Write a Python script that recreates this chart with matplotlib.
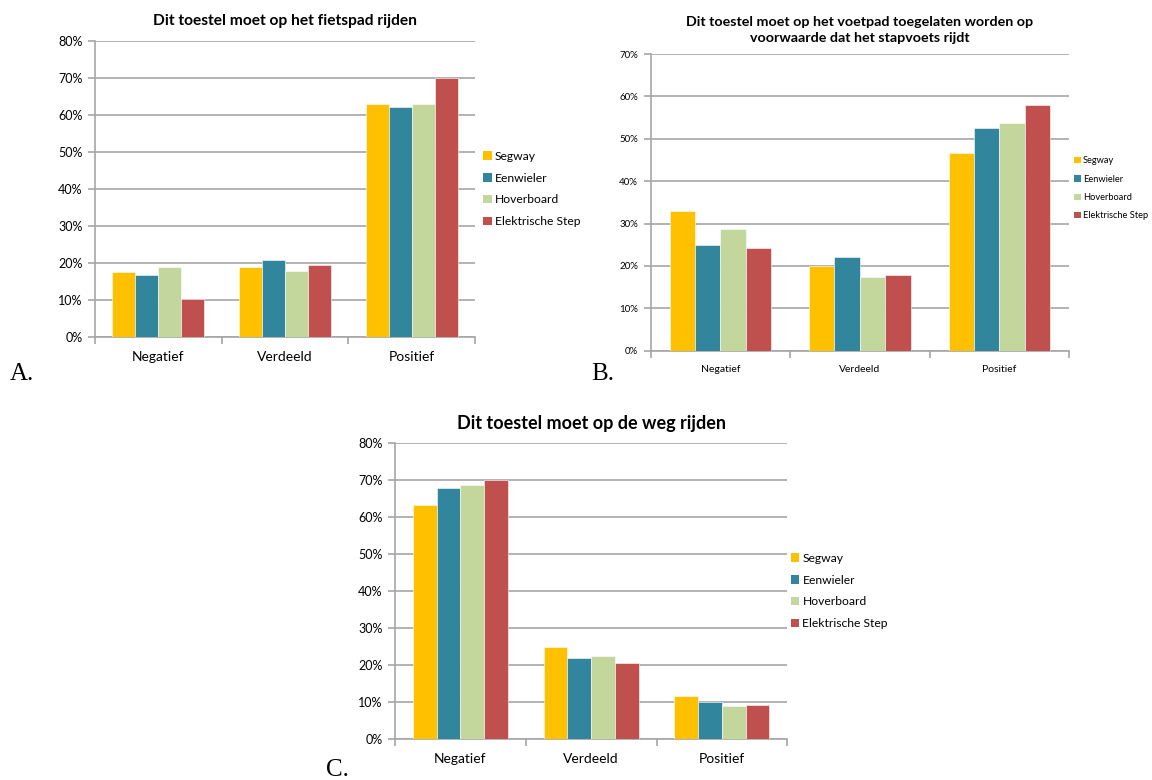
import numpy as np
import matplotlib
matplotlib.use('Agg')
import matplotlib.pyplot as plt
from matplotlib.ticker import MultipleLocator, FixedLocator, FuncFormatter
from matplotlib.patches import Patch

plt.rcParams['font.family'] = ['Lato', 'DejaVu Sans']

categories = ['Negatief', 'Verdeeld', 'Positief']
devices = ['Segway', 'Eenwieler', 'Hoverboard', 'Elektrische Step']
colors = ['#FFC000', '#31859C', '#C3D69B', '#C0504D']

# percentages per device, in category order
fietspad = [
    [17.6, 18.9, 63.0],
    [16.9, 20.8, 62.1],
    [18.9, 17.9, 62.9],
    [10.4, 19.4, 70.0],
]
voetpad = [
    [32.9, 20.1, 46.7],
    [25.0, 22.2, 52.6],
    [28.7, 17.3, 53.7],
    [24.2, 17.9, 57.9],
]
weg = [
    [63.3, 24.9, 11.6],
    [67.7, 22.0, 10.0],
    [68.6, 22.5, 9.0],
    [70.0, 20.5, 9.3],
]

W, H = 1152, 780


def px_axes(fig, left, top, right, bottom):
    return fig.add_axes([left / W, 1 - bottom / H, (right - left) / W, (bottom - top) / H])


def bar_panel(ax, data, ymax, title, tick_fs, cat_fs, leg_fs, title_fs, title_pad,
              leg_pad, leg_y=0.5, leg_space=0.9):
    x = np.arange(len(categories))
    w = 1 / 5.5
    for i, (vals, c) in enumerate(zip(data, colors)):
        ax.bar(x + (i - 1.5) * w, vals, w, color=c, edgecolor='white', linewidth=0.4, zorder=3)
    ax.set_xlim(-0.5, len(categories) - 0.5)
    ax.set_ylim(0, ymax)
    ax.yaxis.set_major_locator(MultipleLocator(10))
    ax.yaxis.set_major_formatter(FuncFormatter(lambda v, p: '%d%%' % v))
    ax.grid(axis='y', color='#A6A6A6', linewidth=1.2, zorder=0)
    ax.set_xticks(x)
    ax.set_xticklabels(categories, fontsize=cat_fs)
    ax.xaxis.set_minor_locator(FixedLocator(np.arange(-0.5, len(categories), 1.0)))
    ax.tick_params(axis='x', which='major', length=0, pad=10)
    ax.tick_params(axis='x', which='minor', length=5, color='#A6A6A6', width=1.2)
    ax.tick_params(axis='y', length=5, color='#A6A6A6', width=1.2, labelsize=tick_fs, pad=4)
    for s in ['top', 'right']:
        ax.spines[s].set_visible(False)
    for s in ['left', 'bottom']:
        ax.spines[s].set_color('#A6A6A6')
        ax.spines[s].set_linewidth(1.2)
    ax.set_title(title, fontsize=title_fs, fontweight='bold', pad=title_pad, linespacing=1.3)
    handles = [Patch(facecolor=c, edgecolor='none') for c in colors]
    ax.legend(handles, devices, loc='center left', bbox_to_anchor=(1.0, leg_y),
              frameon=False, fontsize=leg_fs, handlelength=0.7, handleheight=0.7,
              handletextpad=0.25, labelspacing=leg_space, borderaxespad=leg_pad,
              borderpad=0.2)


fig = plt.figure(figsize=(W / 100, H / 100), dpi=100)

ax_a = px_axes(fig, 95, 40.7, 475, 337.3)
bar_panel(ax_a, fietspad, 80, 'Dit toestel moet op het fietspad rijden',
          9, 10, 8.7, 11.2, 11, 0.5)

ax_b = px_axes(fig, 650.7, 54, 1069, 350.7)
bar_panel(ax_b, voetpad, 70,
          'Dit toestel moet op het voetpad toegelaten worden op\nvoorwaarde dat het stapvoets rijdt',
          7, 7.5, 6.7, 10.3, 9, 0.35, leg_y=0.547, leg_space=1.0)

ax_c = px_axes(fig, 395, 442.7, 787.3, 739.3)
bar_panel(ax_c, weg, 80, 'Dit toestel moet op de weg rijden',
          9, 10, 8.7, 13, 10, 0.1)

serif = ['Liberation Serif', 'DejaVu Serif']
fig.text(10 / W, 1 - 380 / H, 'A.', fontsize=18, family=serif)
fig.text(591 / W, 1 - 380 / H, 'B.', fontsize=18, family=serif)
fig.text(326 / W, 1 - 776 / H, 'C.', fontsize=18, family=serif)

fig.savefig('out.png', dpi=100, facecolor='white')
